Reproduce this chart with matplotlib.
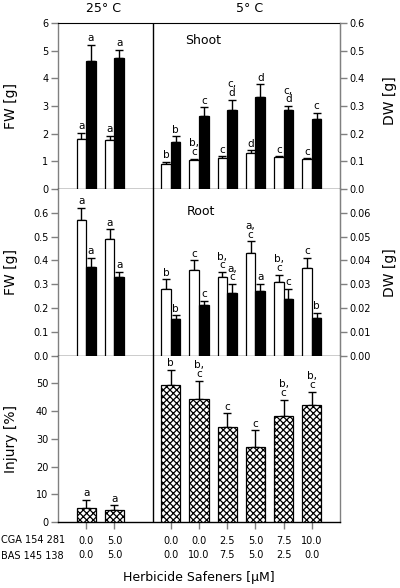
import numpy as np
import matplotlib
matplotlib.use("Agg")
import matplotlib.pyplot as plt

plt.rcParams['font.family'] = ['DejaVu Sans']
plt.rcParams['hatch.linewidth'] = 0.9

# ---------------- data ----------------
pos25 = [1, 2]
pos5 = [4, 5, 6, 7, 8, 9]
divider_x = 3.37

cga = ["0.0", "5.0", "0.0", "0.0", "2.5", "5.0", "7.5", "10.0"]
bas = ["0.0", "5.0", "0.0", "10.0", "7.5", "5.0", "2.5", "0.0"]

# Shoot (25 C on FW axis, 5 C on DW axis)
shoot25_white = [1.82, 1.76]
shoot25_white_err = [0.20, 0.15]
shoot25_black = [4.64, 4.75]
shoot25_black_err = [0.58, 0.29]
shoot5_white = [0.092, 0.104, 0.111, 0.129, 0.114, 0.107]
shoot5_white_err = [0.006, 0.005, 0.007, 0.011, 0.004, 0.004]
shoot5_black = [0.171, 0.263, 0.284, 0.333, 0.284, 0.254]
shoot5_black_err = [0.019, 0.032, 0.038, 0.045, 0.016, 0.021]
shoot25_white_lbl = ["a", "a"]
shoot25_black_lbl = ["a", "a"]
shoot5_white_lbl = ["b", "b,\nc", "c", "d", "c", "c"]
shoot5_black_lbl = ["b", "c", "c,\nd", "d", "c,\nd", "c"]

# Root
root25_white = [0.571, 0.491]
root25_white_err = [0.050, 0.039]
root25_black = [0.372, 0.331]
root25_black_err = [0.039, 0.020]
root5_white = [0.0281, 0.0361, 0.0332, 0.0431, 0.0310, 0.0370]
root5_white_err = [0.0039, 0.0039, 0.0019, 0.0049, 0.0030, 0.0040]
root5_black = [0.0153, 0.0211, 0.0262, 0.0271, 0.0240, 0.0160]
root5_black_err = [0.0017, 0.0020, 0.0039, 0.0030, 0.0040, 0.0019]
root25_white_lbl = ["a", "a"]
root25_black_lbl = ["a", "a"]
root5_white_lbl = ["b", "c", "b,\nc", "a,\nc", "b,\nc", "c"]
root5_black_lbl = ["b", "c", "a,\nc", "a", "c", "b"]

# Injury
inj25 = [5.2, 4.3]
inj25_err = [2.9, 1.7]
inj5 = [49.3, 44.2, 34.1, 27.2, 38.1, 42.2]
inj5_err = [5.7, 6.8, 5.1, 5.9, 6.0, 4.8]
inj25_lbl = ["a", "a"]
inj5_lbl = ["b", "b,\nc", "c", "c", "b,\nc", "b,\nc"]

# ---------------- figure ----------------
fig = plt.figure(figsize=(4.0, 5.88), dpi=100)
H = 588.0
L = 58 / 400
Wd = 282 / 400
ax_top = fig.add_axes([L, 1 - 189 / H, Wd, 166 / H])
ax_mid = fig.add_axes([L, 1 - 355.7 / H, Wd, 166.7 / H])
ax_bot = fig.add_axes([L, 1 - 522 / H, Wd, 166.3 / H])

GRAY = '#808080'
bw = 0.34
FS_TICK = 7
FS_LET = 7.5


def style_axis(ax):
    ax.set_xlim(0, 10)
    for s in ['left', 'right']:
        ax.spines[s].set_color(GRAY)
        ax.spines[s].set_linewidth(1.0)
    ax.spines['top'].set_visible(False)
    ax.spines['bottom'].set_color('black')
    ax.spines['bottom'].set_linewidth(1.0)
    ax.tick_params(axis='y', direction='out', length=5, width=1, color=GRAY,
                   labelsize=FS_TICK, pad=2)
    ax.axvline(divider_x, color='black', lw=1.0, zorder=5)


def bars(ax, x, vals, errs, color, width, labels, offset=0.0, hatch=None):
    xs = np.array(x, dtype=float) + offset
    ax.bar(xs, vals, width=width, color=color, edgecolor='black', lw=0.9,
           hatch=hatch, zorder=3)
    ax.errorbar(xs, vals, yerr=[np.zeros(len(vals)), errs], fmt='none',
                ecolor='black', elinewidth=1.0, capsize=2.6, capthick=1.0,
                zorder=2)
    for xi, v, e, t in zip(xs, vals, errs, labels):
        ax.annotate(t, (xi, v + e), xytext=(0, 1.2), textcoords='offset points',
                    ha='center', va='bottom', fontsize=FS_LET, linespacing=0.85)


def twin_right(ax, lim, ticks, fmt):
    tw = ax.twinx()
    tw.set_ylim(*lim)
    tw.set_yticks(ticks)
    tw.set_yticklabels([fmt.format(v) for v in ticks])
    for s in ['left', 'top', 'bottom']:
        tw.spines[s].set_visible(False)
    tw.spines['right'].set_color(GRAY)
    tw.tick_params(axis='y', direction='out', length=5, width=1, color=GRAY,
                   labelsize=FS_TICK, pad=2)
    return tw


# ---- top: shoot ----
ax = ax_top
style_axis(ax)
ax.spines['top'].set_visible(True)
ax.spines['top'].set_color('black')
ax.set_ylim(0, 6)
ax.set_yticks(range(0, 7))
ax.set_xticks([])
bars(ax, pos25, shoot25_white, shoot25_white_err, 'white', bw, shoot25_white_lbl, -bw / 2)
bars(ax, pos25, shoot25_black, shoot25_black_err, 'black', bw, shoot25_black_lbl, bw / 2)
tw = twin_right(ax, (0, 0.6), list(np.arange(0, 0.61, 0.1)), "{:.1f}")
bars(tw, pos5, shoot5_white, shoot5_white_err, 'white', bw, shoot5_white_lbl, -bw / 2)
bars(tw, pos5, shoot5_black, shoot5_black_err, 'black', bw, shoot5_black_lbl, bw / 2)
ax.set_ylabel("FW [g]", fontsize=10)
ax.yaxis.set_label_coords(-0.142, 0.5)
tw.set_ylabel("DW [g]", fontsize=10, rotation=90)
tw.yaxis.set_label_coords(1.152, 0.53)
ax.text(0.514, 0.892, "Shoot", transform=ax.transAxes, ha='center', va='center', fontsize=9)

# ---- middle: root ----
ax = ax_mid
style_axis(ax)
ax.set_ylim(0, 0.7)
mid_ticks = list(np.arange(0, 0.61, 0.1))
ax.set_yticks(mid_ticks)
ax.set_yticklabels([f"{v:.1f}" for v in mid_ticks])
ax.set_xticks([])
bars(ax, pos25, root25_white, root25_white_err, 'white', bw, root25_white_lbl, -bw / 2)
bars(ax, pos25, root25_black, root25_black_err, 'black', bw, root25_black_lbl, bw / 2)
tw2 = twin_right(ax, (0, 0.07), list(np.arange(0, 0.061, 0.01)), "{:.2f}")
bars(tw2, pos5, root5_white, root5_white_err, 'white', bw, root5_white_lbl, -bw / 2)
bars(tw2, pos5, root5_black, root5_black_err, 'black', bw, root5_black_lbl, bw / 2)
ax.set_ylabel("FW [g]", fontsize=10)
ax.yaxis.set_label_coords(-0.142, 0.5)
tw2.set_ylabel("DW [g]", fontsize=10, rotation=90)
tw2.yaxis.set_label_coords(1.152, 0.5)
ax.text(0.507, 0.868, "Root", transform=ax.transAxes, ha='center', va='center', fontsize=9)

# ---- bottom: injury ----
ax = ax_bot
style_axis(ax)
ax.set_ylim(0, 60)
ax.set_yticks(range(0, 51, 10))
bars(ax, pos25, inj25, inj25_err, 'white', 0.685, inj25_lbl, 0.0, hatch='xxxxx')
bars(ax, pos5, inj5, inj5_err, 'white', 0.685, inj5_lbl, 0.0, hatch='xxxxx')
ax.set_xticks(pos25 + pos5)
ax.set_xticklabels([f"{c}\n{b}" for c, b in zip(cga, bas)], fontsize=FS_TICK,
                   linespacing=1.55)
ax.tick_params(axis='x', direction='out', length=5, width=1, color=GRAY, pad=5)
ax.set_ylabel("Injury [%]", fontsize=10)
ax.yaxis.set_label_coords(-0.142, 0.5)

# ---- figure-level text ----
fig.text(103 / 400, 1 - 8 / H, "25° C", ha='center', va='center', fontsize=9)
fig.text(250 / 400, 1 - 8 / H, "5° C", ha='center', va='center', fontsize=9)
fig.text(1 / 400, 1 - 540 / H, "CGA 154 281", ha='left', va='center', fontsize=FS_TICK)
fig.text(1 / 400, 1 - 556 / H, "BAS 145 138", ha='left', va='center', fontsize=FS_TICK)
fig.text(199 / 400, 1 - 578 / H, "Herbicide Safeners [µM]", ha='center', va='center', fontsize=9)

fig.savefig("out.png", dpi=100)
